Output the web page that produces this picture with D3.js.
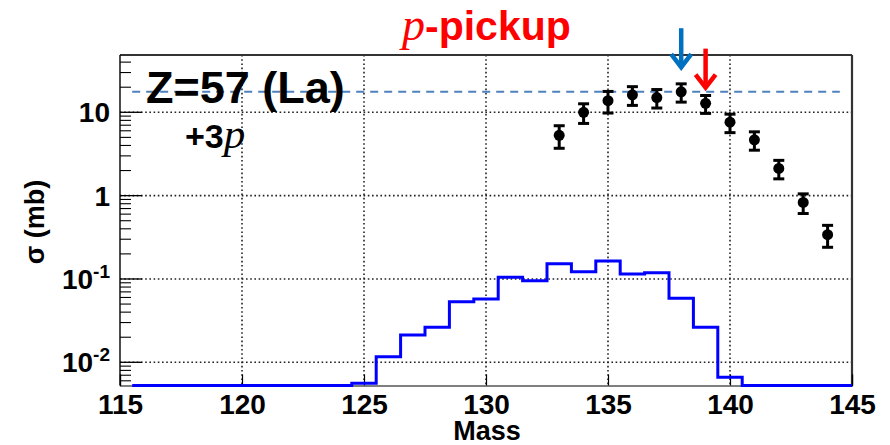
<!DOCTYPE html>
<html>
<head>
<meta charset="utf-8">
<script src="https://cdn.jsdelivr.net/npm/d3@7"></script>
<style>
  body { margin: 0; background: #fff; }
  svg { display: block; }
</style>
</head>
<body>
<svg id="chart" width="890" height="445"></svg>
<script>
// Simulated cross section per mass bin (bins centred on integer masses)
const histMass = [116,117,118,119,120,121,122,123,124,125,126,127,128,129,130,
                  131,132,133,134,135,136,137,138,139,140,141,142,143,144,145];
const histSigma = [0,0,0,0,0,0,0,0,0,0.0056,0.0117,0.0213,0.0263,0.0533,0.0575,
                   0.1047,0.0953,0.152,0.122,0.164,0.115,0.119,0.0586,0.0263,0.0066,0,0,0,0,0];

// Measured cross sections with errors
const pointMass  = [133, 134, 135, 136, 137, 138, 139, 140, 141, 142, 143, 144];
const pointSigma = [5.3, 10.0, 13.8, 16.2, 15.0, 17.6, 12.8, 7.6, 4.67, 2.12, 0.83, 0.34];
const pointErr   = [1.6, 2.65, 4.0, 4.1, 3.75, 4.35, 3.1, 1.9, 1.16, 0.53, 0.22, 0.1];

// Axis ticks
const xTicks = [115, 120, 125, 130, 135, 140, 145];
const yTicks = [0.01, 0.1, 1, 10];
const yTickText = [["10", "-2"], ["10", "-1"], ["1", null], ["10", null]];

// Reference level and markers for the p-pickup edge
const refLevel = 17.7;
const arrows = [
  { mass: 138, tip: 32, color: "#0070c0" },
  { mass: 139, tip: 18.2, color: "#ff0000" }
];

const svg = d3.select("#chart");
const plotLeft = 120, plotRight = 852, plotTop = 55, plotBottom = 385.5;

const x = d3.scaleLinear().domain([115, 145]).range([plotLeft, plotRight]).clamp(true);
const y = d3.scaleLog().domain([0.00527, 48.7]).range([plotBottom, plotTop]);
const yv = v => y(Math.max(v, y.domain()[0]));

const sans = "'Liberation Sans', Arial, Helvetica, sans-serif";
const serif = "'Liberation Serif', 'Times New Roman', serif";

// Dotted grid
const grid = svg.append("g").attr("stroke", "#222").attr("stroke-width", 1.6)
  .attr("stroke-dasharray", "1.6,2.6");
grid.selectAll("line.v").data(xTicks.slice(1, -1)).join("line").attr("class", "v")
  .attr("x1", d => x(d)).attr("x2", d => x(d)).attr("y1", plotTop).attr("y2", plotBottom);
grid.selectAll("line.h").data(yTicks).join("line").attr("class", "h")
  .attr("x1", plotLeft).attr("x2", plotRight).attr("y1", d => y(d)).attr("y2", d => y(d));

// Frame
svg.append("line").attr("x1", plotLeft).attr("x2", plotRight).attr("y1", plotTop).attr("y2", plotTop)
  .attr("stroke", "#333").attr("stroke-width", 2.2);
svg.append("line").attr("x1", plotRight).attr("x2", plotRight).attr("y1", plotTop).attr("y2", plotBottom)
  .attr("stroke", "#333").attr("stroke-width", 2.2);

// X axis
const xAxis = d3.axisBottom(x).tickValues(xTicks).tickSize(-11).tickPadding(9).tickFormat(d3.format("d"));
const gx = svg.append("g").attr("transform", `translate(0,${plotBottom})`).call(xAxis);
gx.select(".domain").attr("stroke", "#000").attr("stroke-width", 1.2);
gx.selectAll(".tick line").attr("stroke", "#000").attr("stroke-width", 1.2);
gx.selectAll(".tick text").attr("font-family", sans).attr("font-weight", "bold")
  .attr("font-size", 28).attr("fill", "#000");

// Y axis (log) with major and minor ticks
const minorTicks = [];
for (let e = -3; e <= 1; e++) {
  for (let m = 2; m <= 9; m++) {
    const v = m * Math.pow(10, e);
    if (v > y.domain()[0] && v < y.domain()[1]) minorTicks.push(v);
  }
}
const gy = svg.append("g");
gy.append("line").attr("x1", plotLeft).attr("x2", plotLeft).attr("y1", plotTop).attr("y2", plotBottom)
  .attr("stroke", "#000").attr("stroke-width", 1.4);
gy.selectAll("line.minor").data(minorTicks).join("line").attr("class", "minor")
  .attr("x1", plotLeft).attr("x2", plotLeft + 11).attr("y1", d => y(d)).attr("y2", d => y(d))
  .attr("stroke", "#000").attr("stroke-width", 1.1);
gy.selectAll("line.major").data(yTicks).join("line").attr("class", "major")
  .attr("x1", plotLeft).attr("x2", plotLeft + 22).attr("y1", d => y(d)).attr("y2", d => y(d))
  .attr("stroke", "#000").attr("stroke-width", 1.3);
const yLab = gy.selectAll("text.ylab").data(yTicks).join("text").attr("class", "ylab")
  .attr("x", plotLeft - 10).attr("y", d => y(d)).attr("dy", "0.36em")
  .attr("text-anchor", "end").attr("font-family", sans).attr("font-weight", "bold")
  .attr("font-size", 28).attr("fill", "#000");
yLab.each(function(d, i) {
  const [base, exp] = yTickText[i];
  const t = d3.select(this);
  t.append("tspan").text(base);
  if (exp) t.append("tspan").attr("font-size", 19).attr("dy", "-0.6em").text(exp);
});

// Axis titles
svg.append("text").attr("transform", `translate(44,222) rotate(-90)`)
  .attr("text-anchor", "middle").attr("font-family", sans).attr("font-weight", "bold")
  .attr("font-size", 27).text("σ (mb)");
svg.append("text").attr("x", 487).attr("y", 440).attr("text-anchor", "middle")
  .attr("font-family", sans).attr("font-weight", "bold").attr("font-size", 27).text("Mass");

// Simulated histogram (step outline)
const stepPts = histMass.map((m, i) => [m - 0.5, histSigma[i]]);
stepPts.push([histMass[histMass.length - 1] + 0.5, histSigma[histSigma.length - 1]]);
svg.append("path").datum(stepPts)
  .attr("d", d3.line().x(d => x(d[0])).y(d => yv(d[1])).curve(d3.curveStepAfter))
  .attr("fill", "none").attr("stroke", "#0000ff").attr("stroke-width", 3);

// Reference level (dashed)
svg.append("line").attr("x1", x(115.5)).attr("x2", x(144.5))
  .attr("y1", y(refLevel)).attr("y2", y(refLevel))
  .attr("stroke", "#4f81bd").attr("stroke-width", 2).attr("stroke-dasharray", "8,6");

// Measured points with error bars
const pts = svg.append("g").selectAll("g").data(pointMass).join("g");
pts.append("line").attr("x1", d => x(d)).attr("x2", d => x(d))
  .attr("y1", (d, i) => y(pointSigma[i] - pointErr[i])).attr("y2", (d, i) => y(pointSigma[i] + pointErr[i]))
  .attr("stroke", "#000").attr("stroke-width", 3);
pts.append("line").attr("x1", d => x(d) - 5.5).attr("x2", d => x(d) + 5.5)
  .attr("y1", (d, i) => y(pointSigma[i] - pointErr[i])).attr("y2", (d, i) => y(pointSigma[i] - pointErr[i]))
  .attr("stroke", "#000").attr("stroke-width", 3);
pts.append("line").attr("x1", d => x(d) - 5.5).attr("x2", d => x(d) + 5.5)
  .attr("y1", (d, i) => y(pointSigma[i] + pointErr[i])).attr("y2", (d, i) => y(pointSigma[i] + pointErr[i]))
  .attr("stroke", "#000").attr("stroke-width", 3);
pts.append("circle").attr("cx", d => x(d)).attr("cy", (d, i) => y(pointSigma[i])).attr("r", 5.5)
  .attr("fill", "#000");

// Arrows marking the edge
const ag = svg.append("g").selectAll("g").data(arrows).join("g")
  .attr("stroke", d => d.color).attr("fill", "none").attr("stroke-width", 4.5);
ag.append("line").attr("x1", d => x(d.mass)).attr("x2", d => x(d.mass))
  .attr("y1", d => y(d.tip) - 42).attr("y2", d => y(d.tip) - 3);
ag.append("path").attr("stroke-linejoin", "miter").attr("d", d => {
  const cx = x(d.mass), ty = y(d.tip) - 3;
  return `M${cx - 10},${ty - 13}L${cx},${ty}L${cx + 10},${ty - 13}`;
});

// Labels
svg.append("text").attr("x", 146).attr("y", 103).attr("font-family", sans)
  .attr("font-weight", "bold").attr("font-size", 45).attr("fill", "#000").text("Z=57 (La)");
const pl = svg.append("text").attr("x", 185).attr("y", 148).attr("fill", "#000");
pl.append("tspan").attr("font-family", sans).attr("font-weight", "bold").attr("font-size", 34).text("+3");
pl.append("tspan").attr("font-family", serif).attr("font-style", "italic").attr("font-size", 43).text("p");

const title = svg.append("text").attr("x", 402).attr("y", 40).attr("fill", "#ff0000");
title.append("tspan").attr("font-family", serif).attr("font-style", "italic").attr("font-size", 46).text("p");
title.append("tspan").attr("font-family", sans).attr("font-weight", "bold").attr("font-size", 41).text("-pickup");
</script>
</body>
</html>
